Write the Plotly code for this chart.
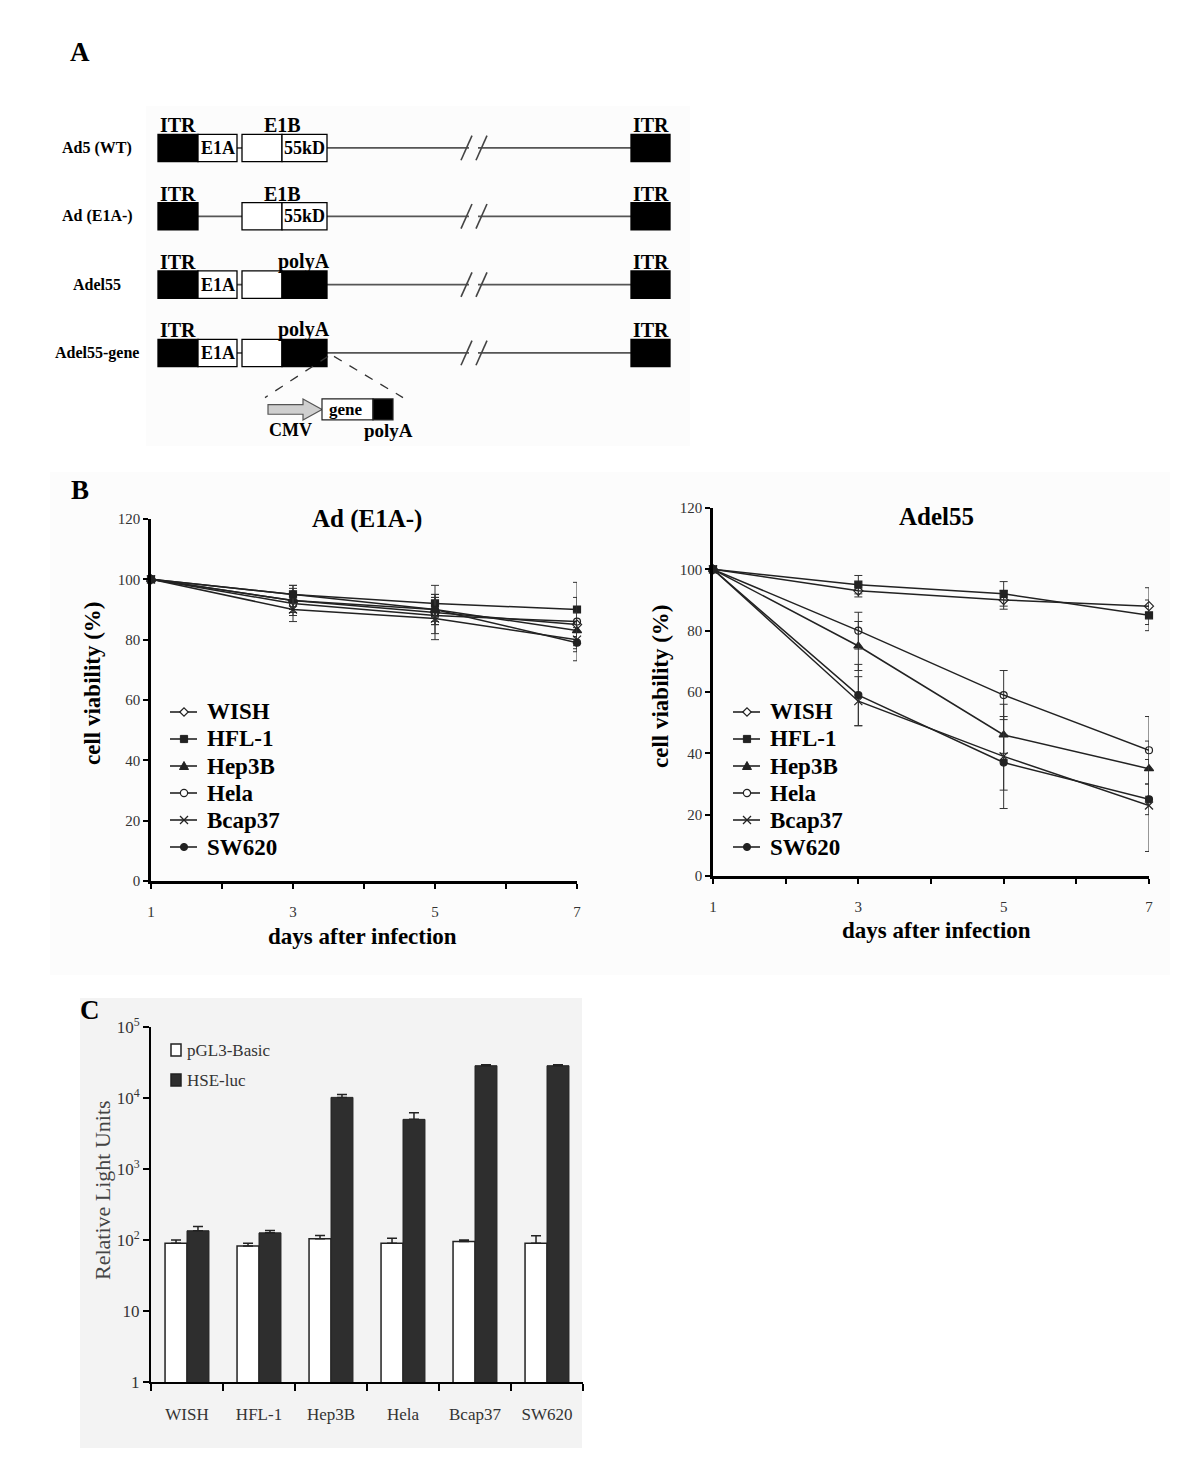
import plotly.graph_objects as go

W, H = 1200, 1476
OFF = 8  # page body margin


def fx(px):
    return (px - OFF) / W


def fy(py):
    return 1 - (py - OFF) / H


# ---------------- data ----------------
days = [1, 3, 5, 7]
cell_lines = ["WISH", "HFL-1", "Hep3B", "Hela", "Bcap37", "SW620"]

# Panel B, Ad (E1A-)
e1a_wish = [100, 93, 89, 85]
e1a_hfl1 = [100, 95, 92, 90]
e1a_hep3b = [100, 93, 90, 83]
e1a_hela = [100, 92, 88, 86]
e1a_bcap37 = [100, 90, 87, 80]
e1a_sw620 = [100, 95, 90, 79]
e1a_wish_err = [0, 3, 4, 4]
e1a_hfl1_err = [0, 3, 6, 9]
e1a_hep3b_err = [0, 4, 5, 6]
e1a_hela_err = [0, 4, 6, 8]
e1a_bcap37_err = [0, 4, 7, 4]
e1a_sw620_err = [0, 3, 5, 6]

# Panel B, Adel55
del_wish = [100, 93, 90, 88]
del_hfl1 = [100, 95, 92, 85]
del_hep3b = [100, 75, 46, 35]
del_hela = [100, 80, 59, 41]
del_bcap37 = [100, 57, 39, 23]
del_sw620 = [100, 59, 37, 25]
del_wish_err = [0, 2, 3, 6]
del_hfl1_err = [0, 3, 4, 5]
del_hep3b_err = [0, 8, 6, 9]
del_hela_err = [0, 6, 8, 11]
del_bcap37_err = [0, 8, 17, 15]
del_sw620_err = [0, 10, 9, 5]

# Panel C
reporters = ["pGL3-Basic", "HSE-luc"]
pgl3_basic = [90, 82, 104, 90, 95, 90]
pgl3_basic_err = [10, 8, 12, 16, 5, 25]
hse_luc = [135, 126, 10200, 5000, 28500, 28500]
hse_luc_err = [20, 10, 1000, 1200, 1000, 1000]
log_tick_vals = [1, 10, 100, 1000, 10000, 100000]
log_tick_text = ["1", "10", "10<sup>2</sup>", "10<sup>3</sup>", "10<sup>4</sup>", "10<sup>5</sup>"]

# Panel A, schematic (genome units)
constructs = ["Ad5 (WT)", "Ad (E1A-)", "Adel55", "Adel55-gene"]
segments = [
    [("ITR", 0, 40), ("E1A", 40, 79), ("E1B", 84, 124), ("55kD", 124, 169)],
    [("ITR", 0, 40), ("E1B", 84, 124), ("55kD", 124, 169)],
    [("ITR", 0, 40), ("E1A", 40, 79), ("E1B", 84, 124), ("polyA", 124, 169)],
    [("ITR", 0, 40), ("E1A", 40, 79), ("E1B", 84, 124), ("polyA", 124, 169)],
]
above_labels = [["ITR", "E1B"], ["ITR", "E1B"], ["ITR", "polyA"], ["ITR", "polyA"]]
genome_end = [473, 512]
genome_break = [309, 324]
cassette = [("CMV", 110, 164), ("gene", 164, 215), ("polyA", 215, 235)]

# ---------------- figure ----------------
fig = go.Figure()

SERIF = "Liberation Serif, Times New Roman, serif"
INK = "#222222"

style = {
    "WISH": dict(symbol="diamond-open", size=7),
    "HFL-1": dict(symbol="square", size=7),
    "Hep3B": dict(symbol="triangle-up", size=8),
    "Hela": dict(symbol="circle-open", size=7),
    "Bcap37": dict(symbol="x-thin-open", size=8),
    "SW620": dict(symbol="circle", size=7),
}

left_sets = [
    (e1a_wish, e1a_wish_err), (e1a_hfl1, e1a_hfl1_err), (e1a_hep3b, e1a_hep3b_err),
    (e1a_hela, e1a_hela_err), (e1a_bcap37, e1a_bcap37_err), (e1a_sw620, e1a_sw620_err),
]
right_sets = [
    (del_wish, del_wish_err), (del_hfl1, del_hfl1_err), (del_hep3b, del_hep3b_err),
    (del_hela, del_hela_err), (del_bcap37, del_bcap37_err), (del_sw620, del_sw620_err),
]

for (xa, ya, sets) in [("x", "y", left_sets), ("x2", "y2", right_sets)]:
    for name, (vals, errs) in zip(cell_lines, sets):
        st = style[name]
        fig.add_trace(go.Scatter(
            x=days, y=vals, name=name, mode="lines+markers",
            xaxis=xa, yaxis=ya, showlegend=False, cliponaxis=False,
            line=dict(color=INK, width=1.5),
            marker=dict(symbol=st["symbol"], size=st["size"], color=INK,
                        line=dict(color=INK, width=1.2)),
            error_y=dict(type="data", array=errs, color="#333333", thickness=1, width=4),
        ))

fig.add_trace(go.Bar(
    x=cell_lines, y=pgl3_basic, name=reporters[0], xaxis="x3", yaxis="y3", showlegend=False,
    marker=dict(color="white", line=dict(color="#222222", width=1.5)),
    error_y=dict(type="data", array=pgl3_basic_err, arrayminus=[0] * 6, color="#222222",
                 thickness=1.5, width=5),
))
fig.add_trace(go.Bar(
    x=cell_lines, y=hse_luc, name=reporters[1], xaxis="x3", yaxis="y3", showlegend=False,
    marker=dict(color="#2e2e2e", line=dict(color="#222222", width=1)),
    error_y=dict(type="data", array=hse_luc_err, arrayminus=[0] * 6, color="#222222",
                 thickness=1.5, width=5),
))

# schematic helper trace (keeps x4/y4 axes alive)
fig.add_trace(go.Scatter(x=[0], y=[0], xaxis="x4", yaxis="y4", mode="markers",
                         marker=dict(opacity=0), showlegend=False, hoverinfo="skip"))

shapes = []
annotations = []


def ann(px, py, text, size, bold=False, color="black", xanchor="center", yanchor="middle",
        angle=0):
    font = dict(family=SERIF, size=size, color=color)
    if bold:
        font["weight"] = "bold"
    annotations.append(dict(xref="paper", yref="paper", x=fx(px), y=fy(py), text=text,
                            showarrow=False, xanchor=xanchor, yanchor=yanchor, textangle=angle,
                            font=font))


# backgrounds
shapes.append(dict(type="rect", xref="paper", yref="paper", x0=fx(146), x1=fx(690),
                   y0=fy(446), y1=fy(106), fillcolor="#fcfcfc", line=dict(width=0), layer="below"))
shapes.append(dict(type="rect", xref="paper", yref="paper", x0=fx(50), x1=fx(1170),
                   y0=fy(975), y1=fy(472), fillcolor="#fcfcfc", line=dict(width=0), layer="below"))
shapes.append(dict(type="rect", xref="paper", yref="paper", x0=fx(80), x1=fx(582),
                   y0=fy(1448), y1=fy(998), fillcolor="#f3f3f3", line=dict(width=0), layer="below"))

# ---- schematic drawing ----
BH = 0.2  # half box height in row units
BOLD = dict(family=SERIF, color="black", weight="bold")
for r, (cname, segs) in enumerate(zip(constructs, segments)):
    last_end = segs[-1][2]
    linecol = "#555555"
    for a, b in zip(segs[:-1], segs[1:]):
        if b[1] > a[2]:
            shapes.append(dict(type="line", xref="x4", yref="y4", x0=a[2], x1=b[1], y0=r, y1=r,
                               line=dict(color=linecol, width=1.8)))
    shapes.append(dict(type="line", xref="x4", yref="y4", x0=last_end, x1=genome_break[0] + 2,
                       y0=r, y1=r, line=dict(color=linecol, width=1.8)))
    shapes.append(dict(type="line", xref="x4", yref="y4", x0=genome_break[1] - 4, x1=genome_end[0],
                       y0=r, y1=r, line=dict(color=linecol, width=1.8)))
    for bx in genome_break:
        shapes.append(dict(type="line", xref="x4", yref="y4", x0=bx - 6, x1=bx + 5,
                           y0=r + 0.18, y1=r - 0.18, line=dict(color="#444444", width=1.6)))
    for kind, s, e in segs:
        filled = kind in ("ITR", "polyA")
        shapes.append(dict(type="rect", xref="x4", yref="y4", x0=s, x1=e, y0=r - BH, y1=r + BH,
                           fillcolor="black" if filled else "white",
                           line=dict(color="black", width=1.3)))
        if kind in ("E1A", "55kD"):
            annotations.append(dict(xref="x4", yref="y4", x=(s + e) / 2, y=r, text=kind,
                                    showarrow=False, xanchor="center", yanchor="middle",
                                    font=dict(**BOLD, size=18)))
    shapes.append(dict(type="rect", xref="x4", yref="y4", x0=genome_end[0], x1=genome_end[1],
                       y0=r - BH, y1=r + BH, fillcolor="black", line=dict(color="black", width=1.3)))
    lab_x = {"ITR": 20, "E1B": 124, "polyA": 146}
    for lab in above_labels[r]:
        annotations.append(dict(xref="x4", yref="y4", x=lab_x[lab], y=r - BH, yanchor="bottom",
                                xanchor="center", text=lab, showarrow=False, yshift=-4,
                                font=dict(**BOLD, size=20)))
    annotations.append(dict(xref="x4", yref="y4", x=(genome_end[0] + genome_end[1]) / 2, y=r - BH,
                            yanchor="bottom", xanchor="center", text="ITR", showarrow=False,
                            yshift=-4, font=dict(**BOLD, size=20)))
    annotations.append(dict(xref="x4", yref="y4", x=-61, y=r, text=cname, showarrow=False,
                            xanchor="center", yanchor="middle", font=dict(**BOLD, size=16)))

# insertion cassette under Adel55-gene
r = 3
cy_top, cy_bot = 3.673, 3.98
cy_mid = (cy_top + cy_bot) / 2
shapes.append(dict(type="line", xref="x4", yref="y4", x0=170, x1=cassette[0][1] - 3, y0=r + 0.05,
                   y1=cy_top - 0.02, line=dict(color="#333333", width=1.3, dash="dash")))
shapes.append(dict(type="line", xref="x4", yref="y4", x0=176, x1=cassette[-1][2] + 10, y0=r + 0.05,
                   y1=cy_top - 0.02, line=dict(color="#333333", width=1.3, dash="dash")))
cmv = cassette[0]
head_start = cmv[2] - 19
arrow_path = (f"M {cmv[1]},{cy_mid - 0.07} L {head_start},{cy_mid - 0.07} L {head_start},{cy_top} "
              f"L {cmv[2]},{cy_mid} L {head_start},{cy_bot} L {head_start},{cy_mid + 0.07} "
              f"L {cmv[1]},{cy_mid + 0.07} Z")
shapes.append(dict(type="path", xref="x4", yref="y4", path=arrow_path, fillcolor="#cfcfcf",
                   line=dict(color="#555555", width=1.2)))
for kind, s, e in cassette[1:]:
    shapes.append(dict(type="rect", xref="x4", yref="y4", x0=s, x1=e, y0=cy_top, y1=cy_bot,
                       fillcolor="black" if kind == "polyA" else "white",
                       line=dict(color="#222222", width=1.2)))
annotations.append(dict(xref="x4", yref="y4", x=(cassette[1][1] + cassette[1][2]) / 2 - 2, y=cy_mid,
                        text="gene", showarrow=False, xanchor="center", yanchor="middle",
                        font=dict(**BOLD, size=17)))
annotations.append(dict(xref="x4", yref="y4", x=132, y=cy_bot, yanchor="top", xanchor="center",
                        text="CMV", showarrow=False, yshift=2, font=dict(**BOLD, size=18)))
annotations.append(dict(xref="x4", yref="y4", x=230, y=cy_bot, yanchor="top", xanchor="center",
                        text="polyA", showarrow=False, yshift=2, font=dict(**BOLD, size=19)))

# ---- panel letters & titles ----
for letter, px, py in [("A", 80, 52), ("B", 80, 490), ("C", 90, 1010)]:
    ann(px, py, letter, 27, bold=True)
ann(367, 519, "Ad (E1A-)", 25, bold=True)
ann(936, 516, "Adel55", 25, bold=True)
ann(362, 936, "days after infection", 23, bold=True)
ann(936, 930, "days after infection", 23, bold=True)
ann(92, 683, "cell viability (%)", 23, bold=True, angle=-90)
ann(660, 686, "cell viability (%)", 23, bold=True, angle=-90)
ann(102, 1190, "Relative Light Units", 22, color="#444444", angle=-90)


# ---- manual legends (panel B) ----
def P(px, py):
    return f"{fx(px):.6f},{fy(py):.6f}"


def glyph(name, cx, cy):
    out = [dict(type="line", xref="paper", yref="paper", x0=fx(cx - 14), x1=fx(cx + 13),
                y0=fy(cy), y1=fy(cy), line=dict(color=INK, width=1.6))]
    rr = 3.6
    if name == "WISH":
        out.append(dict(type="path", xref="paper", yref="paper",
                        path=f"M {P(cx - 4.2, cy)} L {P(cx, cy - 4.2)} L {P(cx + 4.2, cy)} "
                             f"L {P(cx, cy + 4.2)} Z",
                        fillcolor="white", line=dict(color=INK, width=1.2)))
    elif name == "HFL-1":
        out.append(dict(type="rect", xref="paper", yref="paper", x0=fx(cx - rr), x1=fx(cx + rr),
                        y0=fy(cy + rr), y1=fy(cy - rr), fillcolor=INK, line=dict(color=INK, width=1)))
    elif name == "Hep3B":
        out.append(dict(type="path", xref="paper", yref="paper",
                        path=f"M {P(cx - 4.5, cy + 3.5)} L {P(cx + 4.5, cy + 3.5)} "
                             f"L {P(cx, cy - 4.5)} Z",
                        fillcolor=INK, line=dict(color=INK, width=1)))
    elif name == "Hela":
        out.append(dict(type="circle", xref="paper", yref="paper", x0=fx(cx - rr), x1=fx(cx + rr),
                        y0=fy(cy + rr), y1=fy(cy - rr), fillcolor="white",
                        line=dict(color=INK, width=1.2)))
    elif name == "Bcap37":
        for d in (1, -1):
            out.append(dict(type="line", xref="paper", yref="paper", x0=fx(cx - 4), x1=fx(cx + 4),
                            y0=fy(cy - 4 * d), y1=fy(cy + 4 * d), line=dict(color=INK, width=1.2)))
    elif name == "SW620":
        out.append(dict(type="circle", xref="paper", yref="paper", x0=fx(cx - rr), x1=fx(cx + rr),
                        y0=fy(cy + rr), y1=fy(cy - rr), fillcolor=INK, line=dict(color=INK, width=1)))
    return out


for lx, ly0 in [(184, 712), (747, 712)]:
    for i, name in enumerate(cell_lines):
        cy = ly0 + 27 * i
        shapes.extend(glyph(name, lx, cy))
        ann(lx + 21, cy, name, 23, bold=True, xanchor="left")

# ---- manual legend (panel C) ----
for i, (rep, fill) in enumerate(zip(reporters, ["white", "#2e2e2e"])):
    cy = 1050 + 30 * i
    shapes.append(dict(type="rect", xref="paper", yref="paper", x0=fx(171), x1=fx(181),
                       y0=fy(cy + 6), y1=fy(cy - 6), fillcolor=fill,
                       line=dict(color="#222222", width=1.5)))
    ann(185, cy, rep, 17, color="#333333", xanchor="left")


# ---- axes ----
def b_xaxis(dom):
    return dict(domain=dom, range=[1, 7], showline=True, linecolor="black", linewidth=2.5,
                ticks="outside", ticklen=5, tickwidth=2, tickcolor="black",
                tickvals=[1, 3, 5, 7],
                minor=dict(ticks="outside", ticklen=5, tickwidth=2, tickcolor="black",
                           tick0=1, dtick=1, showgrid=False),
                tickfont=dict(family=SERIF, size=15, color="#333333"), ticklabelstandoff=10,
                showgrid=False, zeroline=False)


def b_yaxis(dom, anchor):
    return dict(domain=dom, range=[0, 120], anchor=anchor, showline=True, linecolor="black",
                linewidth=2.5, ticks="outside", ticklen=5, tickwidth=2, tickcolor="black",
                tickvals=[0, 20, 40, 60, 80, 100, 120],
                tickfont=dict(family=SERIF, size=15, color="#333333"),
                showgrid=False, zeroline=False)


fig.update_layout(
    width=W, height=H, margin=dict(l=0, r=0, t=0, b=0, autoexpand=False),
    paper_bgcolor="white", plot_bgcolor="rgba(0,0,0,0)",
    showlegend=False, barmode="group", bargap=0.39, bargroupgap=0,
    xaxis=dict(**b_xaxis([fx(151), fx(577)]), anchor="y"),
    yaxis=b_yaxis([fy(881), fy(519)], "x"),
    xaxis2=dict(**b_xaxis([fx(713), fx(1149)]), anchor="y2"),
    yaxis2=b_yaxis([fy(876), fy(508)], "x2"),
    xaxis3=dict(domain=[fx(151), fx(583)], anchor="y3", showline=True, linecolor="black",
                linewidth=2, ticks="outside", ticklen=7, tickwidth=2, tickcolor="black",
                tickson="boundaries", tickfont=dict(family=SERIF, size=17, color="#333333"),
                ticklabelstandoff=16, showgrid=False, zeroline=False,
                range=[-0.5, 5.5]),
    yaxis3=dict(domain=[fy(1382), fy(1027)], anchor="x3", type="log", range=[0, 5],
                showline=True, linecolor="black", linewidth=2, ticks="outside", ticklen=6,
                tickwidth=2, tickcolor="black", tickvals=log_tick_vals, ticktext=log_tick_text,
                tickfont=dict(family=SERIF, size=17, color="#333333"), showgrid=False,
                zeroline=False),
    xaxis4=dict(domain=[0, 1], range=[-158 + OFF, 1042 + OFF], visible=False, fixedrange=True),
    yaxis4=dict(domain=[fy(450), fy(100)], range=[4.42, -0.702], visible=False, anchor="x4",
                fixedrange=True),
    shapes=shapes,
    annotations=annotations,
)

fig.write_html("out.html")
